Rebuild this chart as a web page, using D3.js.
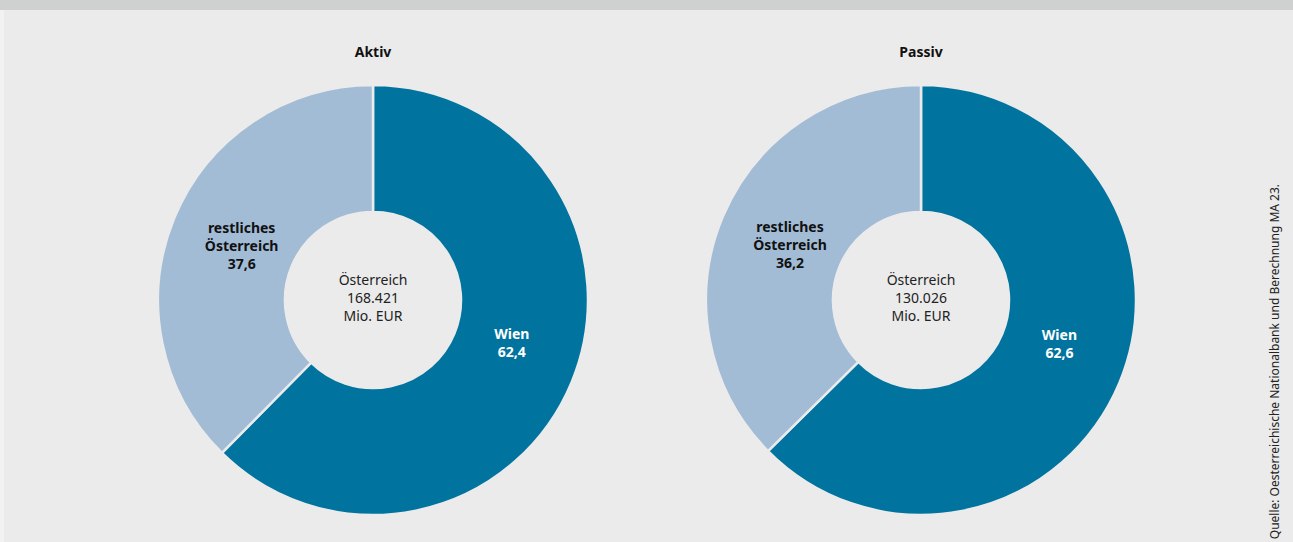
<!DOCTYPE html>
<html>
<head>
<meta charset="utf-8">
<script src="https://cdn.jsdelivr.net/npm/d3@7"></script>
<style>
  html, body { margin: 0; padding: 0; background: #ebebeb; }
  svg { display: block; }
  text { font-family: "Noto Sans", "Open Sans", sans-serif; }
</style>
</head>
<body>
<svg id="chart" width="1293" height="542"></svg>
<script>
// Anteile in Prozent je Region
const regions = ["Wien", "restliches Österreich"];
const aktivShares = [62.4, 37.6];
const passivShares = [62.6, 36.2];
const panelTitles = ["Aktiv", "Passiv"];
const totals = ["168.421", "130.026"];
const sourceNote = "Quelle: Oesterreichische Nationalbank und Berechnung MA 23.";

const W = 1293, H = 542;
const svg = d3.select("#chart");

svg.append("rect").attr("width", W).attr("height", H).attr("fill", "#ebebeb");
svg.append("rect").attr("width", 4).attr("height", H).attr("fill", "#f2f2f2");
svg.append("rect").attr("width", W).attr("height", 10).attr("fill", "#cfd1d0");

const colors = d3.scaleOrdinal().domain(regions).range(["#00739f", "#a3bcd6"]);
const outerR = 215, innerR = 88;
const arc = d3.arc().innerRadius(innerR).outerRadius(outerR);
// Prozentwert -> Winkel im Uhrzeigersinn ab 12 Uhr
const angle = d3.scaleLinear().domain([0, 100]).range([0, 2 * Math.PI]);
const fmt = v => d3.format(".1f")(v).replace(".", ",");

const panels = [
  { title: panelTitles[0], shares: aktivShares, total: totals[0], cx: 373 },
  { title: panelTitles[1], shares: passivShares, total: totals[1], cx: 921 }
];

const cy = 300;
const lineH = 18;

panels.forEach(p => {
  const g = svg.append("g").attr("transform", `translate(${p.cx},${cy})`);
  // Wien ab 12 Uhr, der Rest füllt den Kreis bis 100 %
  const wien = p.shares[0];
  const arcs = [
    { region: regions[0], value: p.shares[0], startAngle: angle(0), endAngle: angle(wien) },
    { region: regions[1], value: p.shares[1], startAngle: angle(wien), endAngle: angle(100) }
  ];

  g.selectAll("path").data(arcs).join("path")
    .attr("d", arc)
    .attr("fill", d => colors(d.region))
    .attr("stroke", "#ebebeb")
    .attr("stroke-width", 2.5);

  svg.append("text")
    .attr("x", p.cx).attr("y", 57)
    .attr("text-anchor", "middle")
    .attr("font-size", 14).attr("font-weight", "bold").attr("fill", "#111")
    .text(p.title);

  // Beschriftung in der Mitte
  const center = ["Österreich", p.total, "Mio. EUR"];
  g.append("text")
    .attr("text-anchor", "middle").attr("font-size", 14).attr("fill", "#222")
    .selectAll("tspan").data(center).join("tspan")
    .attr("x", 0).attr("y", (d, i) => -15 + i * lineH)
    .text(d => d);

  // Segmentbeschriftungen
  arcs.forEach(a => {
    const mid = (a.startAngle + a.endAngle) / 2;
    const isWien = a.region === "Wien";
    const r = isWien ? 150 : 142;
    const lx = Math.sin(mid) * r;
    const ly = -Math.cos(mid) * r + (isWien ? -14 : 0);
    const lines = isWien
      ? ["Wien", fmt(a.value)]
      : ["restliches", "Österreich", fmt(a.value)];
    const offset = -(lines.length - 1) * lineH / 2 + 5;
    g.append("text")
      .attr("text-anchor", "middle").attr("font-size", 14).attr("font-weight", "bold")
      .attr("fill", isWien ? "#ffffff" : "#111")
      .selectAll("tspan").data(lines).join("tspan")
      .attr("x", lx).attr("y", (d, j) => ly + offset + j * lineH)
      .text(d => d);
  });
});

svg.append("text")
  .attr("transform", `translate(1279,184) rotate(-90)`)
  .attr("text-anchor", "end")
  .attr("font-size", 12).attr("fill", "#222")
  .text(sourceNote);
</script>
</body>
</html>
